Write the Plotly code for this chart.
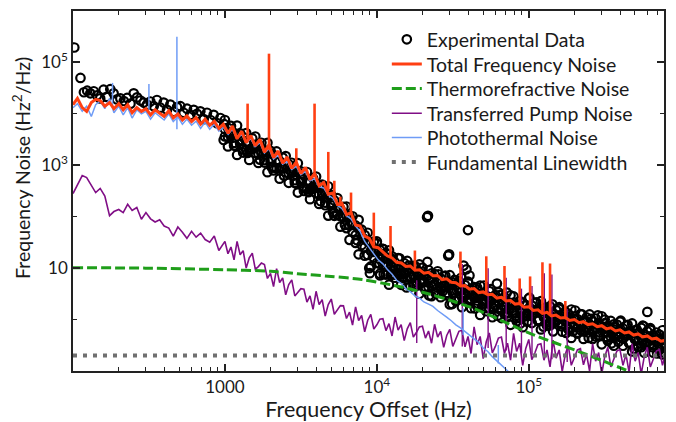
import plotly.graph_objects as go

# ---------------- data ----------------
# coarse frequency grid (Hz) for the model curves
freq_grid = [
    100, 107, 115, 123, 132, 141, 151, 162, 174, 186,
    200, 214, 229, 245, 263, 282, 302, 324, 347, 372,
    398, 427, 457, 490, 525, 562, 603, 646, 692, 741,
    794, 851, 912, 977, 1050, 1120, 1200, 1290, 1380, 1480,
    1580, 1700, 1820, 1950, 2090, 2240, 2400, 2570, 2750, 2950,
    3160, 3390, 3630, 3890, 4170, 4470, 4790, 5130, 5500, 5890,
    6310, 6760, 7240, 7760, 8320, 8910, 9550, 10200, 11000, 11700,
    12600, 13500, 14500, 15500, 16600, 17800, 19100, 20400, 21900, 23400,
    25100, 26900, 28800, 30900, 33100, 35500, 38000, 40700, 43700, 46800,
    50100, 53700, 57500, 61700, 66100, 70800, 75900, 81300, 87100, 93300,
    100000, 107000, 115000, 123000, 132000, 141000, 151000, 162000, 174000, 186000,
    200000, 214000, 229000, 245000, 263000, 282000, 302000, 324000, 347000, 372000,
    398000, 427000, 457000, 490000, 525000, 562000, 603000, 646000, 692000, 741000,
    794000,
]

# fine frequency grid (Hz) above 1 kHz
fine_freq = [
    1000, 1047, 1096, 1148, 1202, 1259, 1318, 1380, 1445, 1514,
    1585, 1660, 1738, 1820, 1905, 1995, 2089, 2188, 2291, 2399,
    2512, 2630, 2754, 2884, 3020, 3162, 3311, 3467, 3631, 3802,
    3981, 4169, 4365, 4571, 4786, 5012, 5248, 5495, 5754, 6026,
    6310, 6607, 6918, 7244, 7586, 7943, 8318, 8710, 9120, 9550,
    10000, 10470, 10960, 11480, 12020, 12590, 13180, 13800, 14450, 15140,
    15850, 16600, 17380, 18200, 19050, 19950, 20890, 21880, 22910, 23990,
    25120, 26300, 27540, 28840, 30200, 31620, 33110, 34670, 36310, 38020,
    39810, 41690, 43650, 45710, 47860, 50120, 52480, 54950, 57540, 60260,
    63100, 66070, 69180, 72440, 75860, 79430, 83180, 87100, 91200, 95500,
    100000, 104700, 109600, 114800, 120200, 125900, 131800, 138000, 144500, 151400,
    158500, 166000, 173800, 182000, 190500, 199500, 208900, 218800, 229100, 239900,
    251200, 263000, 275400, 288400, 302000, 316200, 331100, 346700, 363100, 380200,
    398100, 416900, 436500, 457100, 478600, 501200, 524800, 549500, 575400, 602600,
    631000, 660700, 691800, 724400, 758600, 794300,
]

total_noise = [
    15100, 20000, 13200, 11200, 16600, 19100, 18200, 14100, 16600, 12600,
    15800, 12000, 15100, 10500, 13200, 11200, 12600, 9550, 12000, 10500,
    8900, 11500, 8300, 10000, 7600, 9100, 7100, 8500, 6300, 7900,
    6000, 7200, 5200, 6300, 4200, 5800, 3300, 4600, 2750, 3800,
    2400, 3200, 1800, 2500, 1400, 1900, 1100, 1450, 870, 1150,
    690, 910, 525, 690, 400, 460, 275, 290, 174, 182,
    110, 120, 69, 66, 42, 38, 26, 25, 20, 17.4,
    15.8, 13.0, 12.6, 10.8, 11.0, 9.1, 9.3, 8.0, 8.3, 7.1,
    7.2, 6.0, 6.2, 5.3, 5.2, 4.5, 4.6, 3.9, 4.0, 3.35,
    3.45, 3.05, 3.1, 2.62, 2.7, 2.3, 2.35, 2.0, 2.05, 1.74,
    1.78, 1.51, 1.55, 1.32, 1.38, 1.18, 1.22, 1.07, 1.10, 0.96,
    1.0, 0.87, 0.91, 0.80, 0.83, 0.73, 0.76, 0.66, 0.69, 0.60,
    0.63, 0.55, 0.575, 0.50, 0.525, 0.46, 0.48, 0.42, 0.435, 0.38,
    0.395,
]

photothermal_noise = [
    13200, 15800, 11200, 14100, 8900, 15100, 17800, 12600, 20000, 10500,
    14100, 9550, 13200, 8300, 12000, 10000, 11200, 7900, 10500, 8900,
    7600, 10000, 7100, 8700, 6300, 7900, 6000, 7200, 5200, 6900,
    5000, 6300, 4600, 5500, 4000, 5000, 3300, 4000, 2750, 3300,
    2300, 2750, 1740, 2100, 1320, 1580, 1050, 1200, 830, 955,
    660, 760, 500, 550, 380, 363, 263, 229, 166, 145,
    105, 91, 66, 52, 33, 25, 19, 14.5, 12.0, 9.5,
    7.6, 5.8, 5.0, 4.0, 3.5, 2.9, 2.6, 2.2, 2.0, 1.8,
    1.5, 1.32, 1.12, 0.95, 0.79, 0.69, 0.575, 0.50, 0.42, 0.36,
    0.28, 0.24, 0.19, 0.158, 0.132, 0.11, 0.089, None, None, None,
    None, None, None, None, None, None, None, None, None, None,
    None, None, None, None, None, None, None, None, None, None,
    None, None, None, None, None, None, None, None, None, None,
    None,
]

# transferred pump noise: below 1 kHz on the coarse grid, above on the fine grid
pump_low_freq = [100, 107, 115, 123, 132, 141, 151, 162, 174, 186,
                 200, 214, 229, 245, 263, 282, 302, 324, 347, 372,
                 398, 427, 457, 490, 525, 562, 603, 646, 692, 741,
                 794, 851, 912, 977]
pump_low_noise = [282, 417, 631, 575, 417, 295, 355, 251, 105, 126,
                  138, 120, 174, 132, 151, 89, 120, 91, 79, 87,
                  66, 60, 42, 63, 50, 38, 52, 40, 48, 36,
                  32, 42, 22, 30]
pump_fine_noise = [
    33.1, 19.1, 25.7, 14.5, 33.1, 18.2, 21.9, 10.0, 15.8, 19.5,
    9.55, 10.7, 12.6, 11.7, 6.3, 7.9, 4.37, 9.8, 5.25, 6.45,
    3.02, 4.79, 5.9, 2.88, 3.31, 3.98, 3.89, 2.19, 2.88, 1.58,
    3.55, 1.95, 2.45, 1.17, 1.95, 2.51, 1.27, 1.51, 1.87, 1.85,
    1.05, 1.40, 0.78, 1.77, 0.96, 1.20, 0.58, 0.97, 1.26, 0.655,
    0.79, 1.02, 1.04, 0.61, 0.835, 0.48, 1.12, 0.625, 0.80, 0.39,
    0.66, 0.87, 0.457, 0.56, 0.72, 0.74, 0.436, 0.60, 0.347, 0.81,
    0.457, 0.59, 0.288, 0.49, 0.645, 0.30, 0.41, 0.59, 0.62, 0.295,
    0.47, 0.219, 0.72, 0.324, 0.47, 0.174, 0.37, 0.55, 0.224, 0.30,
    0.436, 0.457, 0.219, 0.347, 0.162, 0.537, 0.24, 0.347, 0.129, 0.275,
    0.41, 0.166, 0.224, 0.324, 0.339, 0.162, 0.257, 0.12, 0.40, 0.178,
    0.257, 0.097, 0.209, 0.313, 0.129, 0.176, 0.257, 0.272, 0.132, 0.211,
    0.10, 0.339, 0.155, 0.229, 0.087, 0.19, 0.288, 0.12, 0.166, 0.245,
    0.263, 0.129, 0.209, 0.095, 0.339, 0.155, 0.229, 0.087, 0.19, 0.288,
    0.12, 0.166, 0.245, 0.263, 0.129, 0.209,
]

# narrow spectral spurs (frequency, level at foot, level at top)
total_spike_freq = [1410, 1950, 2950, 3890, 4790, 5250, 5750, 6760, 9550, 12300,
                    17800, 35500, 52500, 69200, 87100, 102000, 123000, 138000, 174000]
total_spike_base = [3300, 2000, 1000, 630, 316, 250, 178, 110, 28, 16,
                    9.5, 4.7, 3.2, 2.45, 1.95, 1.66, 1.38, 1.26, 1.05]
total_spike_peak = [15800, 148000, 2140, 15800, 1820, 500, 245, 295, 120, 66,
                    22, 21, 17, 11, 6.3, 6.9, 13, 12.3, 2.3]

pump_spike_freq = [18300, 36500, 54000, 71000, 89500, 105000, 126500, 142000, 179000]
pump_spike_base = [0.35, 0.30, 0.28, 0.25, 0.22, 0.20, 0.18, 0.17, 0.15]
pump_spike_peak = [5.8, 12, 10, 6.5, 4.0, 4.5, 8, 7.5, 1.6]

photo_spike_freq = [182, 316, 483, 37000, 63000]
photo_spike_base = [14000, 12000, 5000, 0.5, 0.14]
photo_spike_peak = [40000, 38000, 316000, 1.66, 0.32]

thermo_freq = [100, 300, 1000, 2000, 3000, 5000, 8000, 14000, 20000, 30000,
               45000, 65000, 100000, 150000, 230000, 350000, 460000]
thermo_noise = [10.2, 10.0, 9.3, 8.7, 7.8, 6.9, 6.0, 4.4, 3.4, 2.4,
                1.58, 0.98, 0.55, 0.35, 0.22, 0.135, 0.098]

linewidth_freq = [100, 794000]
linewidth_noise = [0.2, 0.2]

# experimental data
exp_low_freq = [102, 112, 118, 124, 130, 137, 144, 151, 159, 167,
                176, 185, 195, 205, 216, 227, 239, 251, 264, 278,
                292, 307, 323, 340, 357, 376, 395, 416, 437, 460,
                484, 509, 535, 563, 592, 623, 655, 689, 725, 762,
                802, 843, 887, 933, 981, 990]
exp_low_noise = [195000, 50000, 26300, 28200, 25100, 27500, 22900, 20000, 29500, 21400,
                 30200, 25100, 19100, 20000, 17800, 20400, 15800, 25100, 20900, 18200,
                 16600, 15100, 17400, 14100, 18600, 13200, 16600, 12000, 15100, 11000,
                 13500, 14100, 10500, 12600, 9550, 12000, 10000, 11200, 7900, 10500,
                 7600, 9550, 6600, 8300, 3100, 6300]

exp_mid_freq = [1070, 1170, 1290, 1410, 1550, 1700, 1860, 2040, 2240, 2450,
                2690, 2950, 3240, 3550, 3890, 4270, 4680, 5130, 5620, 6170,
                6760, 7410, 8130, 8910, 9770, 9000, 10500]
exp_mid_noise = [4200, 2400, 3100, 1740, 2300, 1290, 1620, 910, 1150, 630,
                 790, 440, 550, 300, 380, 200, 240, 123, 141, 69,
                 76, 35, 38, 10, 21, 8.0, 7.2]

exp_fine_upper = [
    7590, 5350, 5830, 4210, 5920, 4170, 3530, 4230, 2780, 3330,
    3630, 2540, 2740, 1960, 2730, 1910, 1580, 1860, 1200, 1410,
    1510, 1050, 1120, 794, 1100, 759, 631, 741, 479, 562,
    603, 406, 423, 291, 391, 263, 207, 230, 141, 156,
    158, 102, 102, 67.6, 87, 56, 44, 48.8, 29.6, 32.8,
    33.1, 22.5, 23.7, 16.4, 22.3, 15.1, 12.9, 15.6, 10.4, 12.5,
    13.8, 9.95, 11.1, 8.2, 11.8, 8.5, 7.45, 9.2, 6.25, 7.7,
    8.7, 6.25, 6.95, 5.1, 7.3, 5.25, 4.57, 5.62, 3.8, 4.68,
    5.25, 3.8, 4.27, 3.16, 4.57, 3.31, 2.9, 3.58, 2.43, 3.0,
    3.39, 2.45, 2.75, 2.04, 2.95, 2.14, 1.86, 2.29, 1.55, 1.91,
    2.57, 1.87, 2.11, 1.57, 2.28, 1.66, 1.46, 1.81, 1.24, 1.53,
    1.74, 1.27, 1.44, 1.08, 1.57, 1.15, 1.02, 1.28, 0.88, 1.10,
    1.26, 0.925, 1.05, 0.79, 1.16, 0.85, 0.75, 0.94, 0.64, 0.80,
    0.91, 0.67, 0.76, 0.57, 0.84, 0.62, 0.55, 0.69, 0.47, 0.59,
    0.68, 0.50, 0.56, 0.42, 0.62, 0.46,
]
exp_fine_middle = [
    5010, 3530, 3940, 2720, 4000, 2950, 2030, 2860, 2010, 2100,
    2400, 1670, 1850, 1260, 1850, 1350, 912, 1260, 871, 891,
    1000, 692, 759, 513, 741, 537, 363, 501, 347, 355,
    398, 268, 286, 188, 264, 186, 119, 156, 102, 98.6,
    105, 67.6, 69.2, 43.7, 58.9, 39.8, 25.4, 33.0, 21.5, 20.7,
    21.9, 14.9, 16.0, 10.6, 15.1, 10.7, 7.45, 10.6, 7.5, 7.9,
    9.1, 6.6, 7.5, 5.3, 8.0, 6.0, 4.29, 6.2, 4.53, 4.88,
    5.75, 4.13, 4.7, 3.3, 4.94, 3.72, 2.63, 3.8, 2.75, 2.95,
    3.47, 2.51, 2.88, 2.04, 3.09, 2.34, 1.67, 2.42, 1.76, 1.90,
    2.24, 1.62, 1.86, 1.32, 2.0, 1.51, 1.07, 1.55, 1.12, 1.20,
    1.62, 1.18, 1.36, 0.97, 1.47, 1.12, 0.80, 1.17, 0.855, 0.925,
    1.10, 0.80, 0.93, 0.66, 1.01, 0.776, 0.56, 0.824, 0.608, 0.66,
    0.79, 0.583, 0.68, 0.488, 0.75, 0.575, 0.413, 0.605, 0.445, 0.483,
    0.575, 0.423, 0.492, 0.353, 0.542, 0.417, 0.30, 0.443, 0.327, 0.356,
    0.427, 0.313, 0.365, 0.262, 0.40, 0.31,
]
exp_fine_lower = [
    3630, 2330, 3680, 2420, 1590, 2630, 1770, 1980, 1270, 2050,
    1740, 1110, 1730, 1130, 735, 1200, 794, 871, 550, 871,
    724, 457, 708, 457, 295, 479, 316, 347, 219, 347,
    288, 177, 267, 167, 105, 166, 104, 108, 64, 96,
    60, 35.5, 51, 31, 18.6, 28.2, 17.5, 18.1, 10.8, 16.1,
    12.6, 7.8, 11.9, 7.5, 4.76, 7.6, 6.5, 7.3, 4.74, 7.7,
    6.6, 4.35, 7.0, 4.72, 3.18, 5.4, 3.73, 4.31, 2.86, 4.76,
    4.17, 2.73, 4.39, 2.94, 1.97, 3.31, 2.29, 2.63, 1.74, 2.88,
    2.51, 1.66, 2.69, 1.82, 1.23, 2.09, 1.45, 1.67, 1.11, 1.85,
    1.62, 1.07, 1.74, 1.17, 0.79, 1.35, 0.93, 1.07, 0.71, 1.17,
    1.29, 0.855, 1.39, 0.946, 0.643, 1.10, 0.766, 0.887, 0.59, 0.99,
    0.87, 0.58, 0.95, 0.65, 0.44, 0.76, 0.535, 0.625, 0.42, 0.71,
    0.63, 0.42, 0.695, 0.48, 0.33, 0.56, 0.39, 0.46, 0.31, 0.52,
    0.46, 0.31, 0.50, 0.345, 0.24, 0.41, 0.29, 0.34, 0.226, 0.38,
    0.34, 0.227, 0.37, 0.256, 0.21, 0.30,
]

exp_high_freq = [10000, 10400, 10700, 11100, 11500, 11900, 12300, 12700, 13200, 13600,
                 14100, 14600, 15100, 15700, 16200, 16800, 17400, 18000, 18600, 19300,
                 20000, 20700, 21400, 22100, 22900, 23700, 24500, 25400, 26300, 27200,
                 28200, 29200, 30200, 31300, 32400, 33500, 34700, 35900, 37200, 38500,
                 39800, 41200, 42700, 44200, 45700, 47300, 49000, 50700, 52500, 54300,
                 56200, 58200, 60300, 62400, 64600, 66800, 69200, 71600, 74100, 76700,
                 79400, 82200, 85100, 88100, 91200, 94400, 97700, 101000, 105000, 108000,
                 112000, 116000, 120000, 125000, 129000, 133000, 138000, 143000, 148000, 153000,
                 158000, 164000, 170000, 176000, 182000, 188000, 195000, 202000, 209000, 216000,
                 224000, 232000, 240000, 248000, 257000, 266000, 275000, 285000, 295000, 306000,
                 316000, 327000, 339000, 351000, 363000, 376000, 389000, 403000, 417000, 432000,
                 447000, 462000, 479000, 496000, 513000, 531000, 550000, 569000, 589000, 610000,
                 631000, 653000, 676000, 700000, 724000, 750000, 776000]
exp_high_noise = [30, 12.2, 18.8, 7.6, 19.4, 11.4, 7.3, 16.7, 10.8, 7.8,
                  15.5, 6.4, 10.2, 4.2, 11.2, 6.8, 4.5, 10.7, 7.0, 5.1,
                  10.2, 4.3, 7.0, 2.95, 7.9, 4.8, 3.2, 7.6, 5.0, 3.6,
                  7.2, 3.0, 4.8, 2.0, 5.9, 3.76, 2.51, 6.5, 3.1, 3.76,
                  5.5, 2.32, 3.7, 1.64, 4.2, 2.66, 1.78, 4.6, 2.19, 2.67,
                  3.9, 1.66, 2.67, 1.19, 3.0, 1.93, 1.29, 3.35, 1.58, 1.93,
                  2.82, 1.19, 1.91, 0.84, 2.14, 1.36, 0.91, 2.66, 1.24, 1.51,
                  2.16, 0.98, 1.51, 0.73, 1.71, 1.10, 0.77, 1.98, 0.92, 1.13,
                  1.62, 0.74, 1.14, 0.55, 1.29, 0.83, 0.59, 1.50, 0.70, 0.87,
                  1.26, 0.58, 0.90, 0.44, 1.03, 0.66, 0.47, 1.21, 0.56, 0.69,
                  1.00, 0.46, 0.71, 0.345, 0.81, 0.52, 0.37, 0.95, 0.44, 0.54,
                  0.79, 0.36, 0.55, 0.27, 0.64, 0.41, 0.29, 0.75, 0.35, 0.435,
                  0.63, 0.29, 0.445, 0.22, 0.51, 0.33, 0.23]

exp_outlier_freq = [11000, 21400, 21700, 21500, 29500, 29900, 37200, 38900, 40700,
                    39800, 61700, 562000, 603000]
exp_outlier_noise = [23.4, 98, 104, 13.2, 17.4, 18.5, 11.2, 9.5, 7.2,
                     55, 5.0, 0.76, 1.41]

x_major_vals = [1000, 10000, 100000]
x_major_text = ['1000', '10<sup>4</sup>', '10<sup>5</sup>']
x_minor_vals = [200, 300, 400, 500, 600, 700, 800, 900,
                2000, 3000, 4000, 5000, 6000, 7000, 8000, 9000,
                20000, 30000, 40000, 50000, 60000, 70000, 80000, 90000,
                200000, 300000, 400000, 500000, 600000, 700000]
y_major_vals = [10, 1000, 100000]
y_major_text = ['10', '10<sup>3</sup>', '10<sup>5</sup>']
y_minor_vals = [1, 100, 10000]

for a, b in [(freq_grid, total_noise), (freq_grid, photothermal_noise),
             (pump_low_freq, pump_low_noise), (fine_freq, pump_fine_noise),
             (fine_freq, exp_fine_upper), (fine_freq, exp_fine_middle),
             (fine_freq, exp_fine_lower),
             (exp_low_freq, exp_low_noise), (exp_mid_freq, exp_mid_noise),
             (exp_high_freq, exp_high_noise), (exp_outlier_freq, exp_outlier_noise),
             (thermo_freq, thermo_noise)]:
    assert len(a) == len(b), (len(a), len(b))

# ---------------- styling ----------------
RED = '#ff3f12'
BLUE = '#6f9cf6'
PURPLE = '#800e86'
GREEN = '#1f9e1a'
GRAY = '#707070'
FONT = 'Lato, "Open Sans", sans-serif'
INK = '#1a1a1a'


def spike_xy(freqs, bases, peaks):
    xs, ys = [], []
    for f, b, p in zip(freqs, bases, peaks):
        xs += [f, f, None]
        ys += [b, p, None]
    return xs, ys


exp_freq = (exp_low_freq + exp_mid_freq + fine_freq + fine_freq + fine_freq
            + exp_high_freq + exp_outlier_freq)
exp_noise = (exp_low_noise + exp_mid_noise + exp_fine_upper + exp_fine_middle
             + exp_fine_lower + exp_high_noise + exp_outlier_noise)

fig = go.Figure()

fig.add_trace(go.Scatter(
    x=exp_freq, y=exp_noise, mode='markers', name='Experimental Data', legend='legend',
    marker=dict(symbol='circle-open', size=8.5, color='black', line=dict(width=2.2, color='black')),
))

fig.add_trace(go.Scatter(
    x=pump_low_freq + fine_freq, y=pump_low_noise + pump_fine_noise, mode='lines',
    name='Transferred Pump Noise', legend='legend4', line=dict(color=PURPLE, width=1.6),
))
sx, sy = spike_xy(pump_spike_freq, pump_spike_base, pump_spike_peak)
fig.add_trace(go.Scatter(x=sx, y=sy, mode='lines', showlegend=False,
                         line=dict(color=PURPLE, width=1.4), hoverinfo='skip'))

fig.add_trace(go.Scatter(
    x=freq_grid, y=photothermal_noise, mode='lines', name='Photothermal Noise', legend='legend5',
    line=dict(color=BLUE, width=1.5), connectgaps=False,
))
sx, sy = spike_xy(photo_spike_freq, photo_spike_base, photo_spike_peak)
fig.add_trace(go.Scatter(x=sx, y=sy, mode='lines', showlegend=False,
                         line=dict(color=BLUE, width=1.5), hoverinfo='skip'))

fig.add_trace(go.Scatter(
    x=thermo_freq, y=thermo_noise, mode='lines', name='Thermorefractive Noise', legend='legend3',
    line=dict(color=GREEN, width=3, dash='10px,4px', shape='spline', smoothing=0.8),
))

fig.add_trace(go.Scatter(
    x=freq_grid, y=total_noise, mode='lines', name='Total Frequency Noise', legend='legend2',
    line=dict(color=RED, width=3),
))
sx, sy = spike_xy(total_spike_freq, total_spike_base, total_spike_peak)
fig.add_trace(go.Scatter(x=sx, y=sy, mode='lines', showlegend=False,
                         line=dict(color=RED, width=2.6), hoverinfo='skip'))

fig.add_trace(go.Scatter(
    x=linewidth_freq, y=linewidth_noise, mode='lines', name='Fundamental Linewidth', legend='legend6',
    line=dict(color=GRAY, width=4, dash='4px,6px'),
))

axis_common = dict(
    type='log', showgrid=False, zeroline=False, showline=True, linecolor='#222', linewidth=1.5,
    mirror='allticks', ticks='inside', ticklen=7, tickwidth=1.5, tickcolor='#222',
    tickmode='array', tickfont=dict(size=17, family=FONT, color=INK),
)

fig.update_xaxes(
    **axis_common, range=[2, 5.89], tickvals=x_major_vals, ticktext=x_major_text,
    minor=dict(tickmode='array', tickvals=x_minor_vals, ticks='inside', ticklen=4,
               tickwidth=1.2, tickcolor='#222', showgrid=False),
    title=dict(text='Frequency Offset (Hz)', font=dict(size=21.5, family=FONT, color=INK), standoff=1),
)
fig.update_yaxes(
    **axis_common, range=[-1, 6], tickvals=y_major_vals, ticktext=y_major_text,
    minor=dict(tickmode='array', tickvals=y_minor_vals, ticks='inside', ticklen=4,
               tickwidth=1.2, tickcolor='#222', showgrid=False),
)

fig.add_annotation(
    text='Frequency Noise (Hz<sup>2</sup>/Hz)', textangle=-90, showarrow=False,
    xref='paper', yref='paper', x=-0.0863, y=0.564, xanchor='center', yanchor='middle',
    font=dict(size=19.5, family=FONT, color=INK),
)

# one legend box per entry so that the rows sit at the reference spacing
legend_rows = [0.9205, 0.852, 0.7836, 0.7151, 0.648, 0.5795]
legend_layout = {}
for n, yrow in enumerate(legend_rows, start=1):
    key = 'legend' if n == 1 else f'legend{n}'
    legend_layout[key] = dict(
        x=0.531, y=yrow, xanchor='left', yanchor='middle', bgcolor='rgba(0,0,0,0)',
        font=dict(size=19.5, family=FONT, color=INK), itemwidth=30, borderwidth=0,
    )

fig.update_layout(
    width=676, height=422,
    margin=dict(l=73, r=12, t=9, b=48),
    paper_bgcolor='white', plot_bgcolor='white',
    font=dict(family=FONT, size=17, color=INK),
    showlegend=True,
    **legend_layout,
)

fig.write_html('out.html', config={'displayModeBar': False},
               post_script="document.body.style.margin='0px';")
